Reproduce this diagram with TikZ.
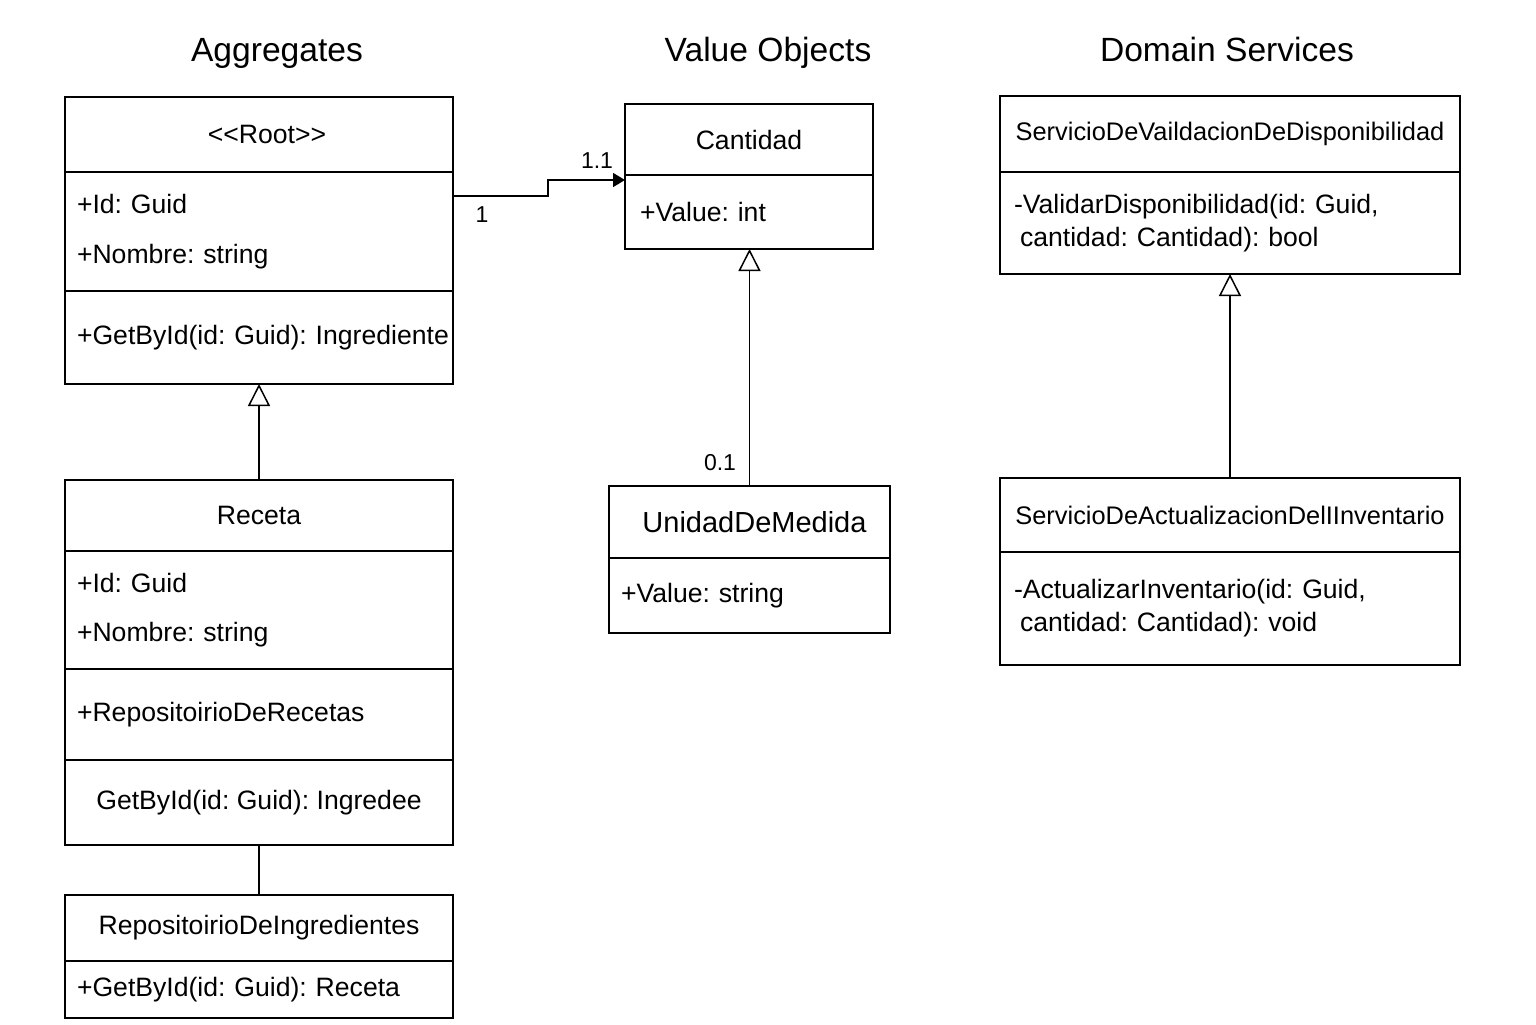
\documentclass[tikz,border=0pt]{standalone}
\usepackage{fontspec}
\setmainfont{Liberation Sans}[Ligatures=TeXOff]
\usetikzlibrary{positioning,arrows.meta}
\frenchspacing
\newcommand\bodyfont{\fontsize{13.3}{16.4}\selectfont\hyphenpenalty=10000}
\newcommand\attrfont{\fontsize{13.3}{24.8}\selectfont}
\newcommand\servfont{\fontsize{12.7}{15}\selectfont}
\tikzset{
  umlbox/.style={draw,line width=1pt,outer sep=0pt,inner xsep=6pt,inner ysep=0pt,font=\bodyfont},
  head/.style={umlbox,align=center},
  comp/.style={umlbox,align=left},
  title/.style={font=\fontsize{16.8}{20}\selectfont,anchor=base},
  mult/.style={font=\fontsize{11.5}{14}\selectfont,inner sep=0pt},
  gen/.style={line width=0.75pt,-{Triangle[open,length=11pt,width=11pt]}},
  assoc/.style={line width=0.75pt,-{Triangle[length=6pt,width=7pt]}}
}
\begin{document}
\begin{tikzpicture}[x=0.5pt,y=-0.5pt]
\useasboundingbox (0,0) rectangle (1536,1024);
% titles
\node[title] (tagg) at (277,61) {Aggregates};
\node[title] (tval) at (768,61) {Value Objects};
\node[title] (tserv) at (1227,61) {Domain Services};
% aggregates
\node[head,minimum width=194pt,minimum height=37.5pt,anchor=north] (root) at (259,97) {\hspace{8pt}<<Root>>};
\node[comp,text width=182pt,minimum height=59.5pt,font=\attrfont,below=0pt of root] (rootattr) {+Id: Guid\\+Nombre: string};
\node[comp,text width=182pt,minimum height=46.5pt,below=0pt of rootattr] (rootops) {\mbox{+GetById(id: Guid): Ingrediente}};
\node[head,minimum width=194pt,minimum height=35.5pt,anchor=north] (receta) at (259,480) {Receta};
\node[comp,text width=182pt,minimum height=59pt,font=\attrfont,below=0pt of receta] (recetaattr) {+Id: Guid\\+Nombre: string};
\node[comp,text width=182pt,minimum height=45.5pt,below=0pt of recetaattr] (recetarepo) {+RepositoirioDeRecetas};
\node[head,minimum width=194pt,minimum height=42.5pt,below=0pt of recetarepo] (recetaget) {GetById(id: Guid): Ingredee};
\node[head,minimum width=194pt,minimum height=33pt,anchor=north] (repoing) at (259,895) {RepositoirioDeIngredientes};
\node[comp,text width=182pt,minimum height=28.5pt,below=0pt of repoing] (repoingops) {+GetById(id: Guid): Receta};
% value objects
\node[head,minimum width=124pt,minimum height=35.5pt,anchor=north] (cant) at (749,104) {Cantidad};
\node[comp,text width=109pt,inner xsep=7.5pt,minimum height=37pt,below=0pt of cant] (cantval) {+Value: int};
\node[head,font=\fontsize{14.5}{17}\selectfont,minimum width=140.5pt,minimum height=36pt,anchor=north] (unidad) at (749.5,486) {\hspace{5pt}UnidadDeMedida};
\node[comp,text width=128.5pt,minimum height=37.5pt,below=0pt of unidad] (unidadval) {+Value: string};
% domain services
\node[head,font=\servfont,minimum width=230pt,minimum height=38pt,anchor=north] (serv1) at (1230,96) {ServicioDeVaildacionDeDisponibilidad};
\node[comp,text width=216pt,inner xsep=7pt,minimum height=51pt,below=0pt of serv1] (serv1ops) {-ValidarDisponibilidad(id: Guid,\\\hspace{3pt}cantidad: Cantidad): bool};
\node[head,font=\servfont,minimum width=230pt,minimum height=37pt,anchor=north] (serv2) at (1230,478) {ServicioDeActualizacionDelIInventario};
\node[comp,text width=216pt,inner xsep=7pt,minimum height=56.5pt,below=0pt of serv2] (serv2ops) {-ActualizarInventario(id: Guid,\\\hspace{3pt}cantidad: Cantidad): void};
% connectors
\coordinate (a1) at ([yshift=-12pt]rootattr.north east);
\coordinate (a2) at ([yshift=-2.5pt]cantval.north west);
\draw[assoc] (a1) -| ([xshift=-38.5pt]a2) -- (a2);
\node[mult] (m1) at (482,215) {1};
\node[mult] (m2) at (597,161) {1.1};
\node[mult] (m3) at (720,463) {0.1};
\draw[gen] (receta.north) -- (rootops.south);
\draw[gen] (unidad.north) -- (unidad.north |- cantval.south);
\draw[gen] (serv2.north) -- (serv1ops.south);
\draw[line width=0.75pt] (recetaget.south) -- (repoing.north);
\end{tikzpicture}
\end{document}
